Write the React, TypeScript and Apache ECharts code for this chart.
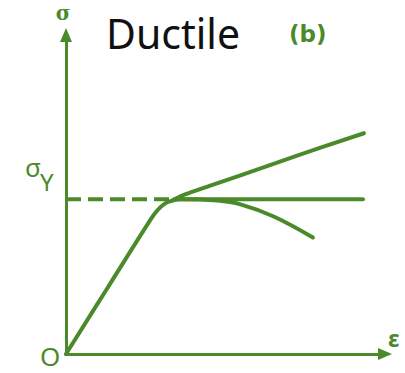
import React, { useEffect, useRef } from "react";
import * as echarts from "echarts";

const GREEN = "#4b8a2a";

// Stress–strain curve of a ductile material (arbitrary units, strain on x, stress on y)
const YIELD_STRESS = 4.85;

// Linear elastic rise bending into the yield knee
const elasticKnee: [number, number][] = [
  [0, 0],
  [1.3, 2.07],
  [2.61, 4.15],
  [2.86, 4.5],
  [3.11, 4.72],
  [3.33, 4.81],
  [3.55, 4.85],
];

// Perfectly plastic branch
const perfectlyPlastic: [number, number][] = [
  [3.4, YIELD_STRESS],
  [9.31, YIELD_STRESS],
];

// Strain-hardening branch
const strainHardening: [number, number][] = [
  [3.33, 4.81],
  [3.6, 4.95],
  [3.95, 5.08],
  [4.5, 5.27],
  [5.47, 5.6],
  [7.36, 6.26],
  [9.34, 6.92],
];

// Strain-softening branch
const strainSoftening: [number, number][] = [
  [3.55, 4.85],
  [4.75, 4.81],
  [5.47, 4.69],
  [6.51, 4.31],
  [7.74, 3.65],
];

// Dashed guide from the stress axis to the yield point
const yieldGuide: [number, number][] = [
  [0, YIELD_STRESS],
  [3.3, YIELD_STRESS],
];

const axisCommon = {
  type: "value" as const,
  min: 0,
  max: 10,
  axisLine: {
    show: true,
    onZero: true,
    symbol: ["none", "triangle"],
    symbolSize: [12, 14],
    lineStyle: { color: GREEN, width: 3 },
  },
  axisTick: { show: false },
  axisLabel: { show: false },
  splitLine: { show: false },
};

function curve(data: [number, number][], smooth: number) {
  return {
    type: "line",
    data,
    smooth,
    symbol: "none",
    silent: true,
    lineStyle: { color: GREEN, width: 4, cap: "round" },
    z: 3,
  };
}

export default function App() {
  const ref = useRef<HTMLDivElement>(null);

  useEffect(() => {
    if (!ref.current) return;
    const chart = echarts.init(ref.current, undefined, { renderer: "svg" });
    chart.setOption({
      animation: false,
      backgroundColor: "#ffffff",
      grid: { left: 66, top: 35, width: 319, height: 319 },
      xAxis: axisCommon,
      yAxis: axisCommon,
      series: [
        {
          type: "line",
          data: yieldGuide,
          symbol: "none",
          silent: true,
          lineStyle: { color: GREEN, width: 4, type: [15, 7] },
          z: 2,
        },
        curve(elasticKnee, 0.4),
        curve(perfectlyPlastic, 0),
        curve(strainHardening, 0.4),
        curve(strainSoftening, 0.4),
      ],
      graphic: [
        {
          type: "text",
          left: 106,
          top: 12,
          style: {
            text: "Ductile",
            fill: "#111111",
            font: '41px "Noto Sans"',
          },
        },
        {
          type: "text",
          x: 289,
          y: 34,
          style: {
            text: "(b)",
            fill: GREEN,
            font: 'bold 23px "DejaVu Sans"',
            verticalAlign: "middle",
          },
        },
        {
          type: "text",
          x: 63,
          y: 13,
          style: {
            text: "σ",
            fill: GREEN,
            font: 'bold 20px "DejaVu Serif"',
            align: "center",
            verticalAlign: "middle",
          },
        },
        {
          type: "text",
          x: 25,
          y: 167,
          style: {
            text: "σ",
            fill: GREEN,
            font: '26px "Noto Sans"',
            verticalAlign: "middle",
          },
        },
        {
          type: "text",
          x: 40,
          y: 181,
          style: {
            text: "Y",
            fill: GREEN,
            font: '24px "Noto Sans"',
            verticalAlign: "middle",
          },
        },
        {
          type: "text",
          x: 40,
          y: 356,
          style: {
            text: "O",
            fill: GREEN,
            font: '26px "Noto Sans"',
            lineHeight: 22,
            verticalAlign: "middle",
          },
        },
        {
          type: "text",
          x: 388,
          y: 338,
          style: {
            text: "ε",
            fill: GREEN,
            font: 'bold 23px "Noto Sans"',
            verticalAlign: "middle",
          },
        },
      ],
    });
    return () => chart.dispose();
  }, []);

  return (
    <div
      ref={ref}
      style={{ position: "fixed", left: 0, top: 0, width: 405, height: 373 }}
    />
  );
}
